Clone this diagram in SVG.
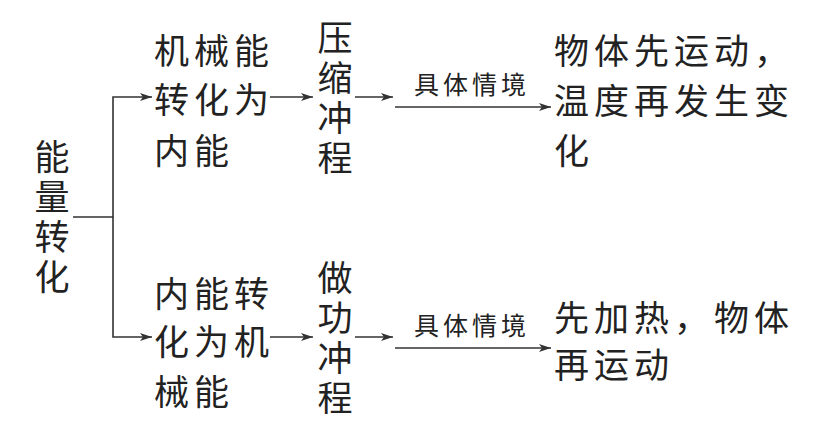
<svg xmlns="http://www.w3.org/2000/svg" width="816" height="423" viewBox="0 0 816 423">
<defs>
<marker id="ah" viewBox="0 0 12 8" refX="12" refY="4" markerWidth="12" markerHeight="8" markerUnits="userSpaceOnUse" orient="auto">
<path d="M0,0 L12,4 L0,8 L3,4 Z" fill="#333"/>
</marker>
<style>
.t{font-family:"Noto Sans CJK SC","Noto Sans CJK JP",sans-serif;font-size:35px;fill:#222;dominant-baseline:central;letter-spacing:5px}
.v{font-family:"Noto Sans CJK SC","Noto Sans CJK JP",sans-serif;font-size:35px;fill:#222;writing-mode:vertical-rl;letter-spacing:5px}
.s{font-family:"Noto Sans CJK SC","Noto Sans CJK JP",sans-serif;font-size:25px;fill:#222;dominant-baseline:central;letter-spacing:4px}
.ln{stroke:#333;stroke-width:1.6;fill:none}
</style>
</defs>
<rect width="816" height="423" fill="#fff"/>
<g id="root">
<text class="v" x="52" y="139">能量转化</text>
</g>
<g id="mech2int">
<text class="t" x="154" y="48">机械能</text>
<text class="t" x="154" y="97">转化为</text>
<text class="t" x="154" y="148">内能</text>
</g>
<g id="compress">
<text class="v" x="335" y="20">压缩冲程</text>
</g>
<g id="result1">
<text class="t" x="554" y="48">物体先运动，</text>
<text class="t" x="554" y="98">温度再发生变</text>
<text class="t" x="554" y="148">化</text>
</g>
<g id="int2mech">
<text class="t" x="154" y="291">内能转</text>
<text class="t" x="154" y="339">化为机</text>
<text class="t" x="154" y="389">械能</text>
</g>
<g id="power">
<text class="v" x="335" y="260">做功冲程</text>
</g>
<g id="result2">
<text class="t" x="554" y="315">先加热，物体</text>
<text class="t" x="554" y="362">再运动</text>
</g>
<g id="connectors">
<path class="ln" d="M73,217 H113 V97 H152" marker-end="url(#ah)"/>
<path class="ln" d="M113,217 V337 H152" marker-end="url(#ah)"/>
<path class="ln" d="M270,97 H313" marker-end="url(#ah)"/>
<path class="ln" d="M355,97 H393" marker-end="url(#ah)"/>
<path class="ln" d="M395,107 H551" marker-end="url(#ah)"/>
<text class="s" x="414" y="83">具体情境</text>
<path class="ln" d="M270,337 H313" marker-end="url(#ah)"/>
<path class="ln" d="M355,337 H393" marker-end="url(#ah)"/>
<path class="ln" d="M395,348 H551" marker-end="url(#ah)"/>
<text class="s" x="414" y="324">具体情境</text>
</g>
</svg>
